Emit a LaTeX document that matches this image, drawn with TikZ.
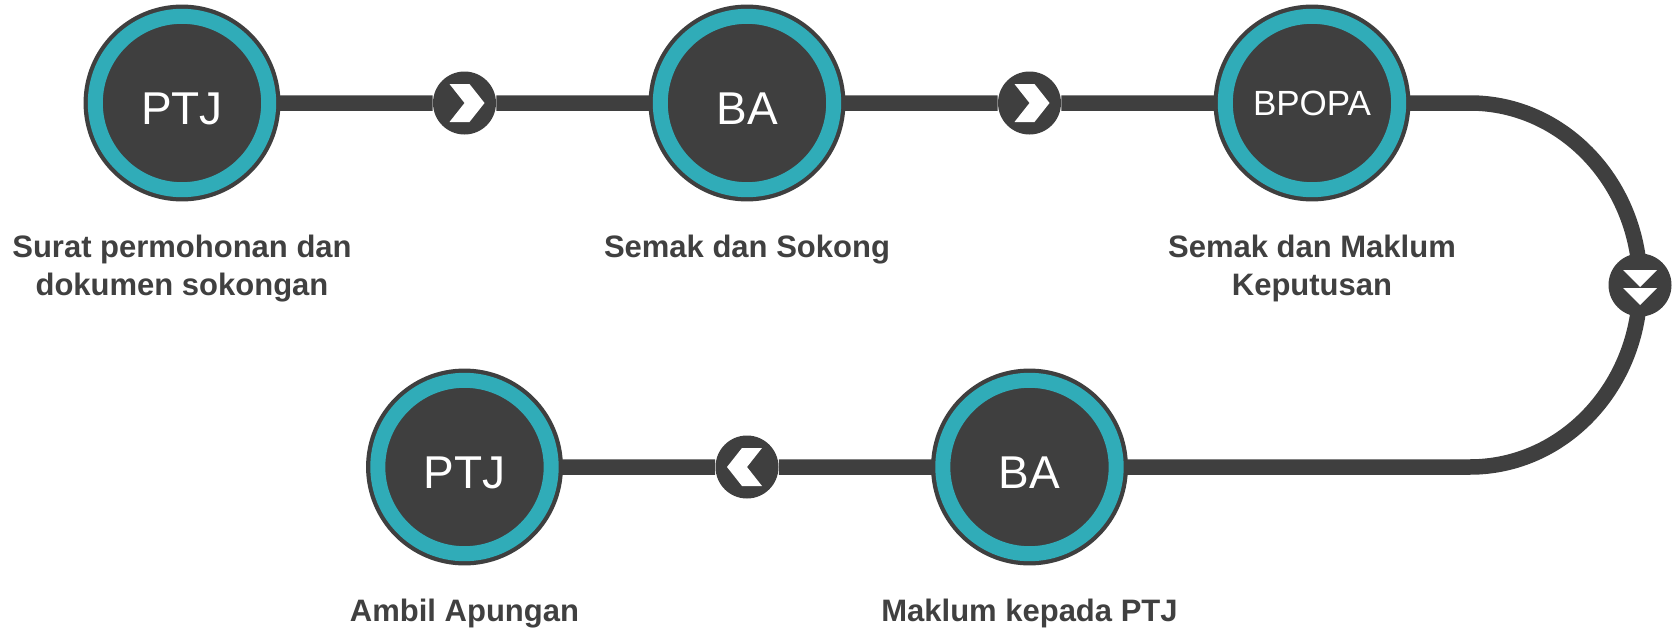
\documentclass[tikz,border=0pt]{standalone}
\usepackage{fontspec}
\setmainfont{Liberation Sans}
\usetikzlibrary{positioning, backgrounds}
\definecolor{darkgrey}{HTML}{3F3F3F}
\definecolor{ringteal}{HTML}{30ACB8}
\definecolor{labelgrey}{HTML}{404040}
\tikzstyle{stepnode} = [circle, minimum size=86.7pt, inner sep=0pt, fill=darkgrey, draw=ringteal, line width=7.5pt, preaction={draw=darkgrey, line width=11.75pt}, text=white, font=\fontsize{23}{23}\selectfont, text height=21.9pt, text depth=0pt]
\tikzstyle{smallfont} = [font=\fontsize{17.5}{17.5}\selectfont, text height=12pt]
\tikzstyle{chevright} = [circle, minimum size=31.5pt, inner sep=0pt, fill=darkgrey, path picture={\fill[white, shift={(path picture bounding box.center)}] (-15,-19) -- (5,-19) -- (20,0) -- (5,19) -- (-15,19) -- (0,0) -- cycle;}]
\tikzstyle{chevleft} = [circle, minimum size=31.5pt, inner sep=0pt, fill=darkgrey, path picture={\fill[white, shift={(path picture bounding box.center)}] (15,-19) -- (-5,-19) -- (-20,0) -- (-5,19) -- (15,19) -- (0,0) -- cycle;}]
\tikzstyle{chevdown} = [circle, minimum size=31.5pt, inner sep=0pt, fill=darkgrey, path picture={\fill[white, shift={(path picture bounding box.center)}] (-17,-15) -- (17,-15) -- (0,2) -- cycle (-17,3) -- (17,3) -- (0,20) -- cycle;}]
\tikzstyle{steptext} = [align=center, inner sep=0pt, outer sep=0pt, text=labelgrey, font=\fontsize{15.5}{19.25}\selectfont\bfseries]
\tikzstyle{track} = [draw=darkgrey, line width=7.75pt]

\begin{document}
\begin{tikzpicture}[x=0.5pt, y=-0.5pt, node distance=141.25pt]
        \useasboundingbox (0,0) rectangle (1678,632);

        % top row
        \node (ptjA) [stepnode] at (182,103) {PTJ};
        \node (chevA) [chevright, right of=ptjA] {};
        \node (baA) [stepnode, right of=chevA] {BA};
        \node (chevB) [chevright, right of=baA] {};
        \node (bpopa) [stepnode, smallfont, right of=chevB] {BPOPA};

        % turn and bottom row
        \coordinate (turnTop) at (1470,103);
        \node (chevD) [chevdown] at (1640,285) {};
        \node (baB) [stepnode, node distance=182pt, below of=chevB] {BA};
        \node (chevC) [chevleft, left of=baB] {};
        \node (ptjB) [stepnode, left of=chevC] {PTJ};

        % labels
        \node (txtPtjA) [steptext, below=18.75pt of ptjA] {Surat permohonan dan\\dokumen sokongan};
        \node (txtBaA) [steptext, below=18.75pt of baA] {Semak dan Sokong};
        \node (txtBpopa) [steptext, below=18.75pt of bpopa] {Semak dan Maklum\\Keputusan};
        \node (txtBaB) [steptext, below=18.75pt of baB] {Maklum kepada PTJ};
        \node (txtPtjB) [steptext, below=18.75pt of ptjB] {Ambil Apungan};

        \begin{pgfonlayer}{background}
        \draw [track] (ptjA) -- (chevA) -- (baA) -- (chevB) -- (bpopa) -- (turnTop)
            arc [start angle=90, end angle=-90, x radius=85pt, y radius=91pt] -- (baB) -- (chevC) -- (ptjB);
        \end{pgfonlayer}
    \end{tikzpicture}
\end{document}
